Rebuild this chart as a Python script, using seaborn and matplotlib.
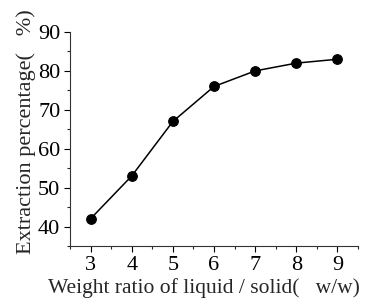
import matplotlib
matplotlib.use("Agg")
import matplotlib.pyplot as plt
from matplotlib.ticker import MultipleLocator
import pandas as pd
import seaborn as sns

# Data
ratio = [3, 4, 5, 6, 7, 8, 9]
extraction = [42, 53, 67, 76, 80, 82, 83]

df = pd.DataFrame({"ratio": ratio, "extraction": extraction})

sns.set_style("ticks")
plt.rcParams["font.family"] = ["Liberation Serif", "DejaVu Serif"]

fig = plt.figure(figsize=(3.65, 3.0), dpi=100)
ax = fig.add_axes([70 / 365, 54 / 300, 288 / 365, 214 / 300])

sns.lineplot(data=df, x="ratio", y="extraction", ax=ax, color="black",
             linewidth=1.1, marker="o", markersize=7, markeredgecolor="black")

ax.set_xlim(2.5, 9.5)
ax.set_ylim(35, 90)
ax.xaxis.set_major_locator(MultipleLocator(1))
ax.xaxis.set_minor_locator(MultipleLocator(0.5))
ax.yaxis.set_major_locator(MultipleLocator(10))
ax.yaxis.set_minor_locator(MultipleLocator(5))
ax.tick_params(which="major", direction="out", length=4, width=0.8,
               labelsize=16, colors="black", pad=3)
ax.tick_params(which="minor", direction="out", length=2.5, width=0.8)

sns.despine(ax=ax)
for s in ["left", "bottom"]:
    ax.spines[s].set_linewidth(0.8)
    ax.spines[s].set_color("#333333")

ax.set_xlabel("Weight ratio of liquid / solid(   w/w)", fontsize=15.5)
ax.set_ylabel("Extraction percentage(   %)", fontsize=16)
# place labels where they sit in the reference
ax.xaxis.set_label_coords((204 - 70) / 288, (246 - 278) / 214)
ax.yaxis.set_label_coords((36 - 70) / 288, (246 - 132) / 214)

fig.savefig("out.png", dpi=100)
